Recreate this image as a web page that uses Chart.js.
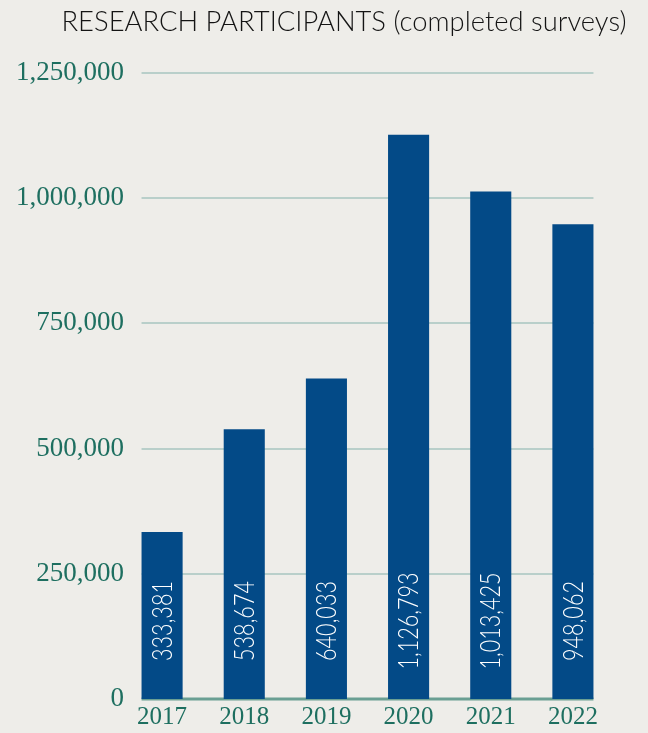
<!DOCTYPE html>
<html>
<head>
<meta charset="utf-8">
<script src="https://cdn.jsdelivr.net/npm/chart.js@4"></script>
<style>
  html, body { margin: 0; padding: 0; background: #eeede9; }
  #wrap { width: 648px; height: 733px; }
</style>
</head>
<body>
<div id="wrap"><canvas id="grafico" width="648" height="733"></canvas></div>
<script>
/* ===================== DATOS ===================== */

const years = ["2017", "2018", "2019", "2020", "2021", "2022"];
const participants = [333381, 538674, 640033, 1126793, 1013425, 948062];
const yTicks = [0, 250000, 500000, 750000, 1000000, 1250000];
const chartTitle = "RESEARCH PARTICIPANTS (completed surveys)";

/* ===================== COLORES ===================== */

const BAR = "#034a87";
const TEAL = "#1e6f60";
const GRID = "#b9cfca";
const BASE = "#6a9f93";
const SANS = "Lato, 'Open Sans', sans-serif";
const SERIF = "'Liberation Serif', serif";

const fmt = v => v.toLocaleString("en-US");

// texto condensado: escala horizontal sobre la fuente normal
function condensed(ctx, text, k) {
  ctx.save();
  ctx.scale(k, 1);
  ctx.fillText(text, 0, 0);
  ctx.restore();
}

/* y labels sit slightly inside the plot area */
const axisPlugin = {
  id: "axisShift",
  afterLayout(chart) {
    chart.scales.y.right = chart.chartArea.left + 3;
  }
};

/* grid lines only span the bars, not the whole axis */
const gridPlugin = {
  id: "gridBars",
  beforeDatasetsDraw(chart) {
    const bars = chart.getDatasetMeta(0).data;
    if (!bars.length) return;
    const y = chart.scales.y;
    const left = bars[0].x - bars[0].width / 2;
    const last = bars[bars.length - 1];
    const right = last.x + last.width / 2;
    const ctx = chart.ctx;
    ctx.save();
    yTicks.forEach(t => {
      const py = Math.round(y.getPixelForValue(t));
      ctx.strokeStyle = t === 0 ? BASE : GRID;
      ctx.lineWidth = t === 0 ? 3 : 2;
      ctx.beginPath();
      ctx.moveTo(left, py);
      ctx.lineTo(right, py);
      ctx.stroke();
    });
    ctx.restore();
  }
};

/* vertical value labels near the bottom of each bar + title */
const labelsPlugin = {
  id: "valueLabels",
  afterDatasetsDraw(chart) {
    const ctx = chart.ctx;
    const y = chart.scales.y;
    const mid = y.getPixelForValue(0) - 78;
    ctx.save();
    ctx.fillStyle = "#ffffff";
    ctx.font = "300 27px " + SANS;
    ctx.textAlign = "center";
    ctx.textBaseline = "middle";
    chart.getDatasetMeta(0).data.forEach((bar, i) => {
      ctx.save();
      ctx.translate(bar.x + 1, mid);
      ctx.rotate(-Math.PI / 2);
      condensed(ctx, fmt(participants[i]), 0.8);
      ctx.restore();
    });
    ctx.restore();
  },
  afterDraw(chart) {
    const ctx = chart.ctx;
    ctx.save();
    ctx.fillStyle = "#141414";
    ctx.font = "300 28px " + SANS;
    ctx.textAlign = "center";
    ctx.textBaseline = "middle";
    const w = ctx.measureText(chartTitle).width;
    ctx.translate(344, 22);
    condensed(ctx, chartTitle, Math.min(1, 565 / w));
    ctx.restore();
  }
};

new Chart(document.getElementById("grafico"), {
  type: "bar",
  data: {
    labels: years,
    datasets: [{
      data: participants,
      backgroundColor: BAR,
      borderWidth: 0,
      barPercentage: 0.5,
      categoryPercentage: 1
    }]
  },
  options: {
    responsive: false,
    animation: false,
    events: [],
    layout: { padding: { top: 73, right: 34, bottom: 0, left: 0 } },
    plugins: { legend: { display: false }, tooltip: { enabled: false }, title: { display: false } },
    scales: {
      x: {
        grid: { display: false, drawTicks: false },
        border: { display: false },
        afterFit(scale) { scale.height = 34; },
        ticks: { color: TEAL, font: { family: SERIF, size: 25 }, padding: 3, maxRotation: 0 }
      },
      y: {
        min: 0,
        max: 1250000,
        grid: { display: false, drawTicks: false },
        border: { display: false },
        afterFit(scale) { scale.width = 121; },
        afterBuildTicks(scale) { scale.ticks = yTicks.map(v => ({ value: v })); },
        ticks: {
          color: TEAL,
          font: { family: SERIF, size: 27 },
          padding: 0,
          callback: v => fmt(v)
        }
      }
    }
  },
  plugins: [axisPlugin, gridPlugin, labelsPlugin]
});
</script>
</body>
</html>
